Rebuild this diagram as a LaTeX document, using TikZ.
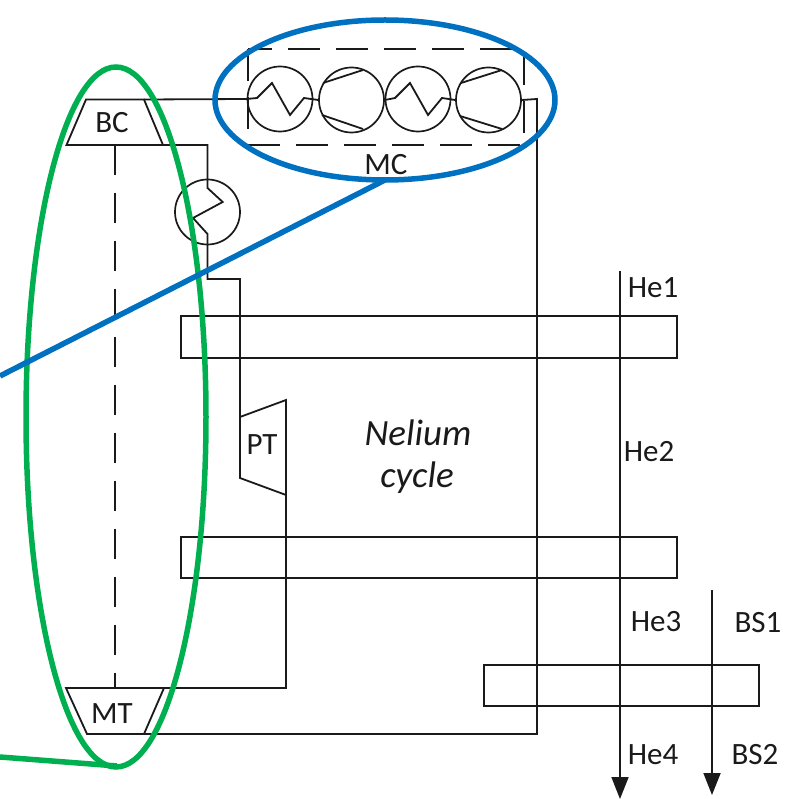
\documentclass[tikz,border=0pt]{standalone}
\usepackage{fontspec}
\setmainfont{Carlito}
\usetikzlibrary{arrows.meta}
\definecolor{ringblue}{HTML}{0070C0}
\definecolor{ringgreen}{HTML}{00B050}
\definecolor{ink}{HTML}{1A1A1A}
\tikzset{
  pipe/.style={draw=ink,line width=1.8pt,line join=miter},
  shaftline/.style={draw=ink,line width=1.8pt,dash pattern=on 30pt off 18pt},
  hxring/.style={circle,draw=ink,line width=1.7pt,minimum size=65pt,inner sep=0pt},
  exchanger/.style={draw=ink,line width=1.8pt},
  lbl/.style={font=\fontsize{31}{31}\selectfont,text=ink,inner sep=0pt},
  bigitalic/.style={font=\fontsize{37}{37}\selectfont\itshape},
  flow/.style={pipe,-{Triangle[length=22pt,width=17pt]}},
  ring/.style={line width=5.5pt},
}
\begin{document}
\begin{tikzpicture}[x=1pt,y=-1pt]
\useasboundingbox (0,0) rectangle (807,799);
% machines
\coordinate (bcTL) at (86,99.5);\coordinate (bcTR) at (144,99.5);
\coordinate (bcBR) at (163,145);\coordinate (bcBL) at (66.5,145);
\coordinate (mtTL) at (66,688);\coordinate (mtTR) at (164,688);
\coordinate (mtBR) at (144,734);\coordinate (mtBL) at (87,734);
\coordinate (ptTL) at (240,417);\coordinate (ptTR) at (286,400);
\coordinate (ptBR) at (286,495);\coordinate (ptBL) at (240,478);
\draw[pipe] (bcTL)--(bcTR)--(bcBR)--(bcBL)--cycle;
\draw[pipe] (mtTL)--(mtTR)--(mtBR)--(mtBL)--cycle;
\draw[pipe] (ptTL)--(ptTR)--(ptBR)--(ptBL)--cycle;
\coordinate (shaftTop) at (115,145);\coordinate (shaftBot) at (115,688);
\draw[shaftline] (shaftTop)--(shaftBot);
% rings
\node[hxring] (ic) at (207.5,212) {};
\node[hxring] (m1) at (280,99) {};
\node[hxring] (m2) at (351.5,100) {};
\node[hxring] (m3) at (418,99) {};
\node[hxring] (m4) at (488.5,100) {};
% MC box
\coordinate (boxA) at (248,49);\coordinate (boxB) at (524,145);
\draw[draw=ink,line width=1.8pt,dash pattern=on 32pt off 16pt] (boxA) rectangle (boxB);
% pipes
\draw[pipe] (bcTR)--(m1.west)--(257,98)--(272,83)--(290,115)--(304,98)--(m2.west);
\draw[pipe] (323,83)--(363,70) (322,115)--(363,129);
\draw[pipe] (m2.east)--(395,98)--(410,83)--(428,115)--(442,98)--(m4.west);
\draw[pipe] (461,83)--(502,70) (460,116)--(502,129);
\coordinate (mcCorner) at (537,99);\coordinate (mtCorner) at (537,734);
\draw[pipe] (m4.east)--(mcCorner)--(mtCorner)--(mtBR);
\draw[pipe] (bcBR)--(207.5,145)--(ic.north)--(207.5,188)--(222.7,202)--(193,218)--(207.5,234)--(ic.south)--(207.5,279)--(240,279)--(ptTL);
\draw[pipe] (ptBR)--(286,688)--(mtTR);
% exchangers
\node[exchanger,minimum width=496pt,minimum height=42pt,inner sep=0pt] (hx1) at (429,337) {};
\node[exchanger,minimum width=496pt,minimum height=41pt,inner sep=0pt] (hx2) at (429,557.5) {};
\node[exchanger,minimum width=275pt,minimum height=41pt,inner sep=0pt] (hx3) at (621.5,685.5) {};
% streams
\coordinate (heIn) at (620,271);\coordinate (heOut) at (620,799);
\coordinate (bsIn) at (712,590);\coordinate (bsOut) at (712,795);
\draw[flow] (heIn)--(heOut);
\draw[flow] (bsIn)--(bsOut);
% labels
\node[lbl] (tBC) at (112,123) {BC};
\node[lbl] (tMT) at (112,714) {MT};
\node[lbl] (tPT) at (262,445) {PT};
\node[lbl] (tMC) at (386,165) {MC};
\node[lbl] (tH1) at (653,288) {He1};
\node[lbl] (tH2) at (649,452) {He2};
\node[lbl] (tH3) at (656,622) {He3};
\node[lbl] (tB1) at (758,623) {BS1};
\node[lbl] (tH4) at (653,755) {He4};
\node[lbl] (tB2) at (755,755) {BS2};
\node[lbl,bigitalic] (tN) at (418,433) {Nelium};
\node[lbl,bigitalic] (tC) at (417,478) {cycle};
% highlight rings
\coordinate (gTail) at (0,757);
\draw[ring,draw=ringgreen] (116,417) ellipse [x radius=90,y radius=350];
\coordinate (gTip) at (117,766);
\draw[ring,draw=ringgreen] (gTail)--(gTip);
\draw[ring,draw=ringblue] (385,100) ellipse [x radius=170,y radius=80];
\coordinate (bTip) at (385,180);\coordinate (bTail) at (0,376);
\draw[ring,draw=ringblue] (bTip)--(bTail);
\end{tikzpicture}
\end{document}
